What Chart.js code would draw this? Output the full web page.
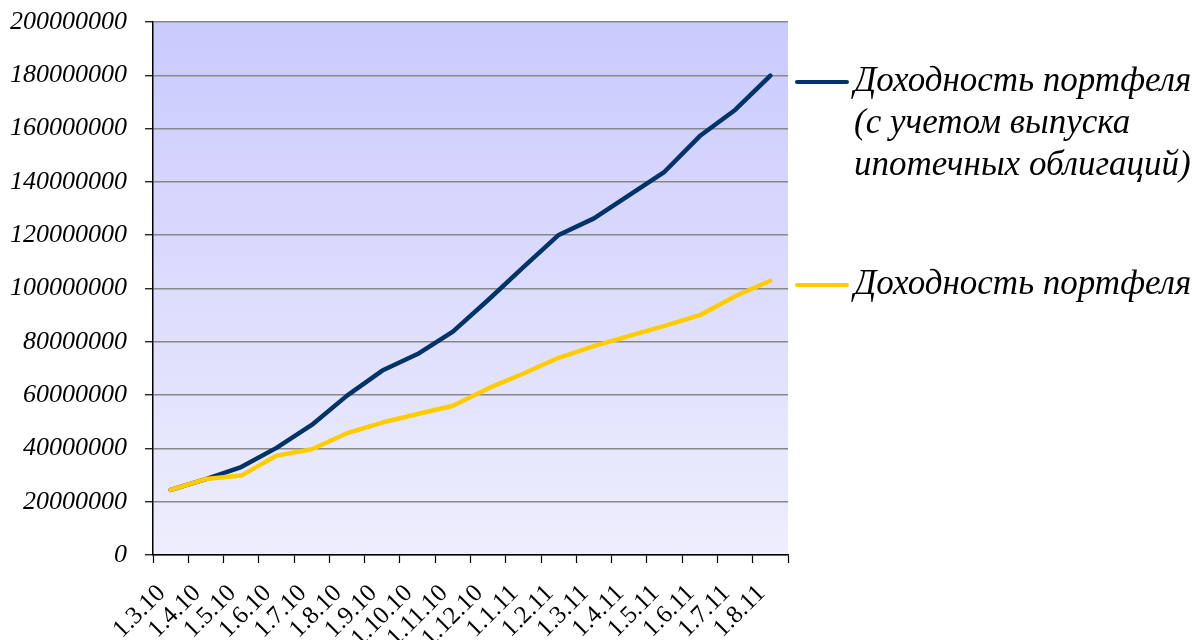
<!DOCTYPE html>
<html>
<head>
<meta charset="utf-8">
<script src="https://cdn.jsdelivr.net/npm/chart.js@4/dist/chart.umd.min.js"></script>
<style>
  html, body { margin: 0; padding: 0; background: #ffffff; }
  #wrap { width: 1196px; height: 640px; }
</style>
</head>
<body>
<div id="wrap"><canvas id="c" width="1196" height="640"></canvas></div>
<script>
// Monthly dates (d.m.yy)
const categories = ['1.3.10', '1.4.10', '1.5.10', '1.6.10', '1.7.10', '1.8.10', '1.9.10',
  '1.10.10', '1.11.10', '1.12.10', '1.1.11', '1.2.11', '1.3.11', '1.4.11', '1.5.11',
  '1.6.11', '1.7.11', '1.8.11'];

// Portfolio return including mortgage bond issue
const withBonds = [24400000, 28500000, 33000000, 40200000, 48800000, 59800000, 69200000,
  75400000, 83800000, 95700000, 108000000, 120100000, 126300000, 135000000, 143800000,
  157200000, 167000000, 179900000];

// Portfolio return
const portfolio = [24400000, 28500000, 29800000, 37300000, 39700000, 45700000, 49700000,
  52900000, 56000000, 62500000, 68100000, 74000000, 78400000, 82200000, 86000000,
  90000000, 97100000, 102900000];

// Legend captions, one entry per line
const legendWithBonds = ['Доходность портфеля', '(с учетом выпуска', 'ипотечных облигаций)'];
const legendPortfolio = ['Доходность портфеля'];

// Y axis ticks
const yMin = 0;
const yMax = 200000000;
const yStep = 20000000;

const SERIF = '"Liberation Serif", "Times New Roman", serif';

// Gradient fill behind the plot area
const plotBackground = {
  id: 'plotBackground',
  beforeDraw(chart) {
    const { ctx, chartArea: a } = chart;
    const g = ctx.createLinearGradient(0, a.top, 0, a.bottom);
    g.addColorStop(0, 'rgb(202,202,254)');
    g.addColorStop(1, 'rgb(238,238,253)');
    ctx.save();
    ctx.fillStyle = g;
    ctx.fillRect(a.left, a.top, a.right - a.left, a.bottom - a.top);
    ctx.restore();
  }
};

// Legend to the right with multi-line captions
const sideLegend = {
  id: 'sideLegend',
  afterDraw(chart) {
    const { ctx } = chart;
    const entries = [
      { ds: chart.data.datasets[0], lines: legendWithBonds, y: 82 },
      { ds: chart.data.datasets[1], lines: legendPortfolio, y: 285 }
    ];
    ctx.save();
    ctx.font = 'italic 35px ' + SERIF;
    ctx.textBaseline = 'middle';
    ctx.textAlign = 'left';
    entries.forEach(e => {
      ctx.strokeStyle = e.ds.borderColor;
      ctx.lineWidth = 4;
      ctx.lineCap = 'round';
      ctx.beginPath();
      ctx.moveTo(797, e.y);
      ctx.lineTo(847, e.y);
      ctx.stroke();
      ctx.fillStyle = '#000000';
      e.lines.forEach((t, i) => ctx.fillText(t, 854, e.y + i * 42));
    });
    ctx.restore();
  }
};

new Chart(document.getElementById('c'), {
  type: 'line',
  data: {
    labels: categories,
    datasets: [
      {
        label: legendWithBonds.join(' '),
        data: withBonds,
        order: 1,
        borderColor: '#003366',
        borderWidth: 4.5,
        borderCapStyle: 'round',
        borderJoinStyle: 'round',
        pointRadius: 0,
        tension: 0,
        fill: false
      },
      {
        label: legendPortfolio.join(' '),
        data: portfolio,
        order: 0,
        borderColor: '#FFCC00',
        borderWidth: 4.5,
        borderCapStyle: 'round',
        borderJoinStyle: 'round',
        pointRadius: 0,
        tension: 0,
        fill: false
      }
    ]
  },
  options: {
    responsive: false,
    animation: false,
    layout: { padding: { left: 0, top: 22, right: 408, bottom: 0 } },
    plugins: {
      legend: { display: false },
      tooltip: { enabled: false }
    },
    scales: {
      x: {
        type: 'category',
        offset: true,
        afterFit(scale) { scale.height = 85; },
        grid: {
          offset: true,
          drawOnChartArea: false,
          drawTicks: true,
          tickLength: 8,
          tickColor: '#000000',
          tickWidth: 1.2
        },
        border: { display: true, color: '#000000', width: 1.5 },
        ticks: {
          autoSkip: false,
          maxRotation: 45,
          minRotation: 45,
          padding: 16,
          labelOffset: -9,
          color: '#000000',
          font: { family: SERIF, size: 25 }
        }
      },
      y: {
        min: yMin,
        max: yMax,
        afterFit(scale) {
          scale.width = 153;
          scale.paddingTop = 0;
          scale.paddingBottom = 0;
        },
        grid: {
          color: '#888888',
          lineWidth: 1.5,
          drawTicks: true,
          tickLength: 8,
          tickColor: '#000000',
          tickWidth: 1.2
        },
        border: { display: true, color: '#000000', width: 1.5 },
        ticks: {
          stepSize: yStep,
          padding: 18,
          color: '#000000',
          font: { family: SERIF, size: 26, style: 'italic' },
          callback: v => String(v)
        }
      }
    }
  },
  plugins: [plotBackground, sideLegend]
});
</script>
</body>
</html>
